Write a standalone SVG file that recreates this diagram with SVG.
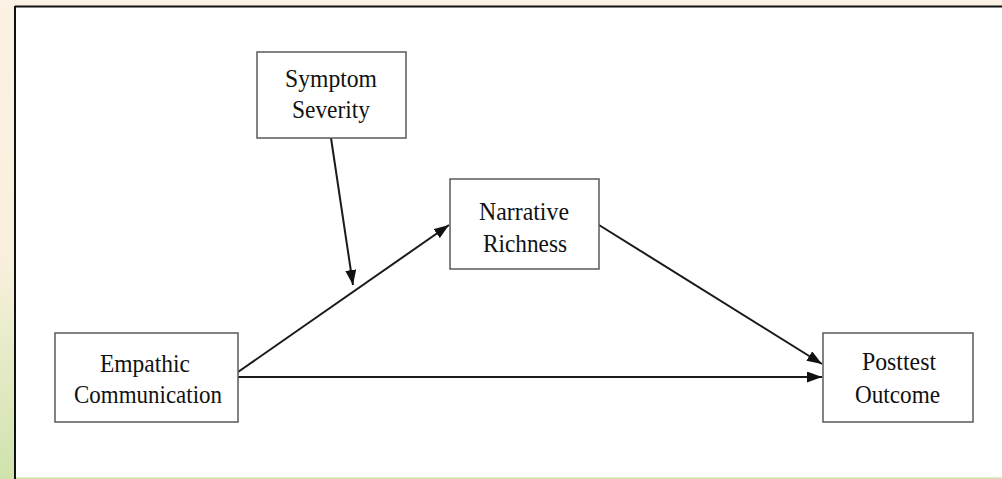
<svg xmlns="http://www.w3.org/2000/svg" width="1002" height="479" viewBox="0 0 1002 479">
<defs>
<linearGradient id="bg" x1="0" y1="0" x2="0" y2="1">
<stop offset="0" stop-color="#fcf2e4"/>
<stop offset="0.55" stop-color="#f8f0dc"/>
<stop offset="1" stop-color="#cfe3ad"/>
</linearGradient>
<marker id="ah" viewBox="0 0 15 11" refX="15" refY="5.5" markerWidth="15" markerHeight="11" markerUnits="userSpaceOnUse" orient="auto">
<path d="M0,0 L15,5.5 L0,11 Z" fill="#111"/>
</marker>
<style>
.box{fill:#fff;stroke:#5a5a5a;stroke-width:1.5}
.lbl{font-family:"Liberation Serif","Times New Roman",serif;font-size:25.5px;fill:#111;text-anchor:middle}
.edge{stroke:#1a1a1a;stroke-width:2;fill:none;marker-end:url(#ah)}
</style>
</defs>
<rect x="0" y="0" width="1002" height="479" fill="url(#bg)"/>
<rect x="15" y="7" width="990" height="471" fill="#fff"/>
<line x1="15" y1="6.5" x2="1002" y2="6.5" stroke="#111" stroke-width="2"/>
<line x1="15" y1="6" x2="15" y2="479" stroke="#111" stroke-width="2"/>
<line x1="16" y1="478" x2="1002" y2="478" stroke="#d6e6b4" stroke-width="1.5"/>
<g id="connectors">
<line class="edge" x1="331" y1="138" x2="353" y2="285"/>
<line class="edge" x1="238" y1="372" x2="449" y2="225"/>
<line class="edge" x1="599" y1="225" x2="822" y2="364"/>
<line class="edge" x1="238" y1="377" x2="822" y2="377"/>
</g>
<g id="symptom-severity">
<rect class="box" x="257" y="52" width="149" height="86"/>
<text class="lbl" x="331" y="87" textLength="92" lengthAdjust="spacingAndGlyphs">Symptom</text>
<text class="lbl" x="331" y="118" textLength="78" lengthAdjust="spacingAndGlyphs">Severity</text>
</g>
<g id="narrative-richness">
<rect class="box" x="450" y="179" width="149" height="90"/>
<text class="lbl" x="524" y="220" textLength="90" lengthAdjust="spacingAndGlyphs">Narrative</text>
<text class="lbl" x="525" y="252" textLength="84" lengthAdjust="spacingAndGlyphs">Richness</text>
</g>
<g id="empathic-communication">
<rect class="box" x="55" y="333" width="183" height="89"/>
<text class="lbl" x="145" y="372" textLength="90" lengthAdjust="spacingAndGlyphs">Empathic</text>
<text class="lbl" x="148" y="403" textLength="148" lengthAdjust="spacingAndGlyphs">Communication</text>
</g>
<g id="posttest-outcome">
<rect class="box" x="823" y="333" width="150" height="89"/>
<text class="lbl" x="899" y="370" textLength="74" lengthAdjust="spacingAndGlyphs">Posttest</text>
<text class="lbl" x="897.5" y="403" textLength="85" lengthAdjust="spacingAndGlyphs">Outcome</text>
</g>
</svg>
